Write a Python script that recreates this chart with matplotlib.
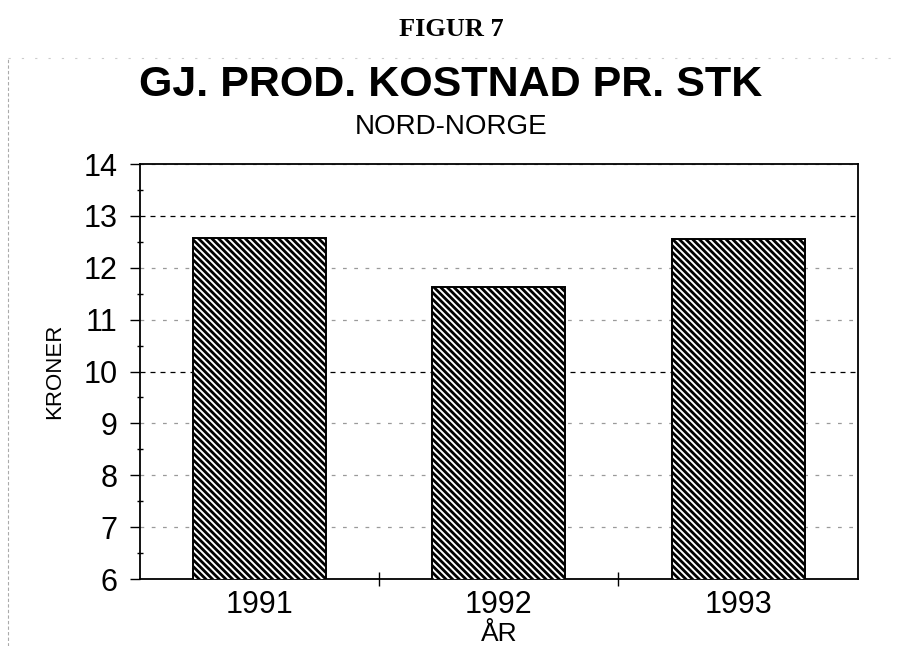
#!/usr/bin/env python3
"""
Figur 7 - gj. prod. kostnad pr. stk, Nord-Norge
"""

import matplotlib
matplotlib.use('Agg')
import matplotlib.pyplot as plt
from matplotlib.lines import Line2D

# Data
years = ['1991', '1992', '1993']
cost = [12.57, 11.63, 12.55]
y_ticks = [6, 7, 8, 9, 10, 11, 12, 13, 14]

plt.rcParams['font.family'] = 'Liberation Sans'
plt.rcParams['hatch.linewidth'] = 2.0

fig = plt.figure(figsize=(9.02, 6.46), dpi=100)
ax = fig.add_axes([0.155, 0.1037, 0.796, 0.6423])

x = list(range(len(years)))
ax.bar(x, cost, width=0.555, color='white', edgecolor='black',
       linewidth=1.4, hatch='\\\\\\\\\\', zorder=3)

ax.set_xlim(-0.5, 2.5)
ax.set_ylim(6, 14)

# y axis
ax.set_yticks(y_ticks)
ax.set_yticks([v + 0.5 for v in y_ticks[:-1]], minor=True)
ax.tick_params(axis='y', which='major', direction='out', length=7,
               width=1.0, labelsize=22, pad=9)
ax.tick_params(axis='y', which='minor', direction='inout', length=5, width=1.0)

# x axis: labels at bars, ticks between categories
ax.set_xticks(x)
ax.set_xticklabels(years)
ax.set_xticks([0.5, 1.5], minor=True)
ax.tick_params(axis='x', which='major', length=0, labelsize=22, pad=8)
ax.tick_params(axis='x', which='minor', direction='inout', length=10, width=1.0)

ax.yaxis.grid(True, linestyle=(0, (4, 4)), linewidth=0.9, color='black', zorder=1)
for v, gl in zip(y_ticks, ax.get_ygridlines()):
    if v not in (10, 13):
        gl.set_color('#9a9a9a')
        gl.set_linestyle((0, (3, 6)))

for s in ax.spines.values():
    s.set_linewidth(1.3)

ax.set_ylabel('KRONER', fontsize=16)
ax.yaxis.set_label_coords(-0.104, 0.5)
ax.set_xlabel('ÅR', fontsize=19)
ax.xaxis.set_label_coords(0.5, -0.104)
ax.xaxis.label.set_va('top')

# titles
fig.text(0.5, 0.954, 'FIGUR 7', fontsize=19, fontweight='bold',
         family='Liberation Serif', ha='center', va='center')
fig.text(0.5, 0.868, 'GJ. PROD. KOSTNAD PR. STK', fontsize=31,
         fontweight='bold', ha='center', va='center')
fig.text(0.5, 0.803, 'NORD-NORGE', fontsize=20, ha='center', va='center')

# faint page frame from the scan
fig.add_artist(Line2D([0.009, 0.009], [0.0, 0.91], transform=fig.transFigure,
                      color='#aaaaaa', linewidth=0.8, linestyle=(0, (3, 2))))
fig.add_artist(Line2D([0.009, 0.99], [0.91, 0.91], transform=fig.transFigure,
                      color='#cccccc', linewidth=0.8, linestyle=(0, (2, 10))))

plt.savefig('out.png', dpi=100)
